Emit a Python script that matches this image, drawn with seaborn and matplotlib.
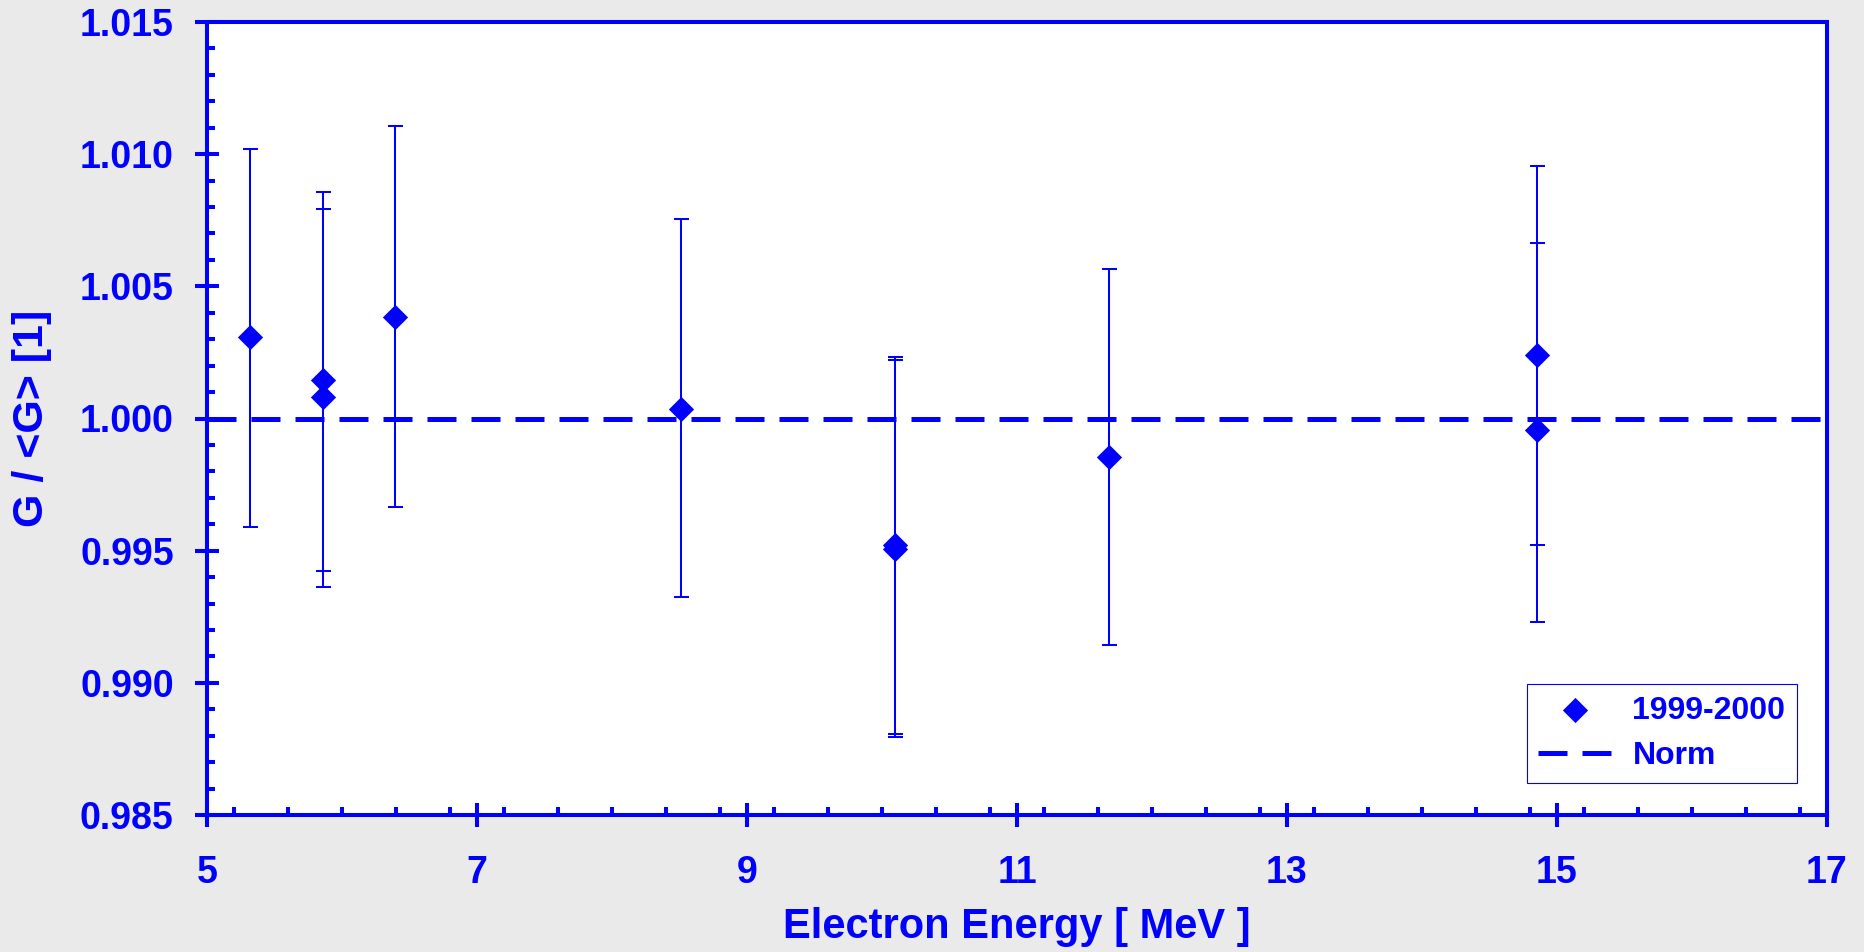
import matplotlib
matplotlib.use("Agg")
import matplotlib.pyplot as plt
import seaborn as sns
import numpy as np
import pandas as pd
from matplotlib.ticker import MultipleLocator, FormatStrFormatter

# ---- data ----
energy = [5.32, 5.857, 5.857, 6.393, 8.509, 10.096, 10.096, 11.68, 14.854, 14.854]
ratio = [1.00308, 1.00144, 1.00083, 1.00384, 1.00037, 0.99520, 0.99508, 0.99853, 1.00242, 0.99955]
err_low = [0.00720, 0.00722, 0.00722, 0.00720, 0.00714, 0.00712, 0.00713, 0.00710, 0.00720, 0.00723]
err_high = [0.00712, 0.00711, 0.00711, 0.00722, 0.00719, 0.00712, 0.00712, 0.00714, 0.00713, 0.00710]
norm_value = 1.0
series_label = "1999-2000"
norm_label = "Norm"
x_label = "Electron Energy [ MeV ]"
y_label = "G / <G> [1]"
x_ticks = [5, 7, 9, 11, 13, 15, 17]

df = pd.DataFrame({"energy": energy, "ratio": ratio})

sns.set_style("white")
plt.rcParams["font.family"] = ["Liberation Sans", "DejaVu Sans"]
plt.rcParams["font.weight"] = "bold"

BLUE = "#0000FF"
W, H = 1864, 952
fig = plt.figure(figsize=(W / 100, H / 100), dpi=100, facecolor="#EAEAEA")
L, R, T, B = 207, 1827, 22, 815
ax = fig.add_axes([L / W, 1 - B / H, (R - L) / W, (B - T) / H])
ax.set_facecolor("white")

# norm line
ax.axhline(norm_value, color=BLUE, lw=3.6, linestyle=(0, (5.8, 3.0)),
           label=norm_label, zorder=2)

# error bars
ax.errorbar(energy, ratio, yerr=[err_low, err_high], fmt="none",
            ecolor=BLUE, elinewidth=1.45, capsize=5.4, capthick=1.45, zorder=2.5)

# points
sns.scatterplot(data=df, x="energy", y="ratio", marker="D", s=150, color=BLUE,
                edgecolor=BLUE, linewidth=0.6, ax=ax, zorder=3, label=series_label,
                legend=False)

ax.set_xlim(5, 17)
ax.set_ylim(0.985, 1.015)
ax.set_xticks(x_ticks)
ax.xaxis.set_minor_locator(MultipleLocator(0.4))
ax.yaxis.set_major_locator(MultipleLocator(0.005))
ax.yaxis.set_minor_locator(MultipleLocator(0.001))
ax.yaxis.set_major_formatter(FormatStrFormatter("%.3f"))

for s in ax.spines.values():
    s.set_color(BLUE)
    s.set_linewidth(2.9)
    s.set_visible(True)

ax.tick_params(axis="both", which="major", direction="inout", length=17,
               width=2.9, color=BLUE, labelcolor=BLUE, labelsize=27)
ax.tick_params(axis="y", which="major", pad=15.5)
ax.tick_params(axis="x", which="major", pad=20)
ax.tick_params(axis="both", which="minor", direction="in", length=6,
               width=2.9, color=BLUE)
ax.tick_params(top=False, right=False, which="both")
ax.tick_params(left=True, bottom=True, which="both")
for lab in ax.get_xticklabels() + ax.get_yticklabels():
    lab.set_fontweight("bold")

ax.set_xlabel(x_label, fontsize=30, fontweight="bold", color=BLUE)
ax.set_ylabel(y_label, fontsize=31, fontweight="bold", color=BLUE)
ax.xaxis.set_label_coords(0.5, -(927 - B) / (B - T))
ax.xaxis.label.set_verticalalignment("center")
ax.yaxis.set_label_coords(-(L - 32.5) / (R - L), 0.5)
ax.yaxis.label.set_verticalalignment("center")

handles, labels = ax.get_legend_handles_labels()
order = [labels.index(series_label), labels.index(norm_label)]
leg = ax.legend([handles[i] for i in order], [labels[i] for i in order],
                loc="lower right", bbox_to_anchor=(1 - 30 / (R - L), 32 / (B - T)),
                borderaxespad=0, frameon=True, fancybox=False,
                edgecolor=BLUE, facecolor="white", framealpha=1,
                handlelength=2.3, handletextpad=0.65, borderpad=0.36,
                labelspacing=0.5, labelcolor=BLUE, scatterpoints=1,
                prop={"weight": "bold", "size": 23})
leg.get_frame().set_linewidth(0.8)

fig.savefig("out.png", dpi=100, facecolor=fig.get_facecolor())
